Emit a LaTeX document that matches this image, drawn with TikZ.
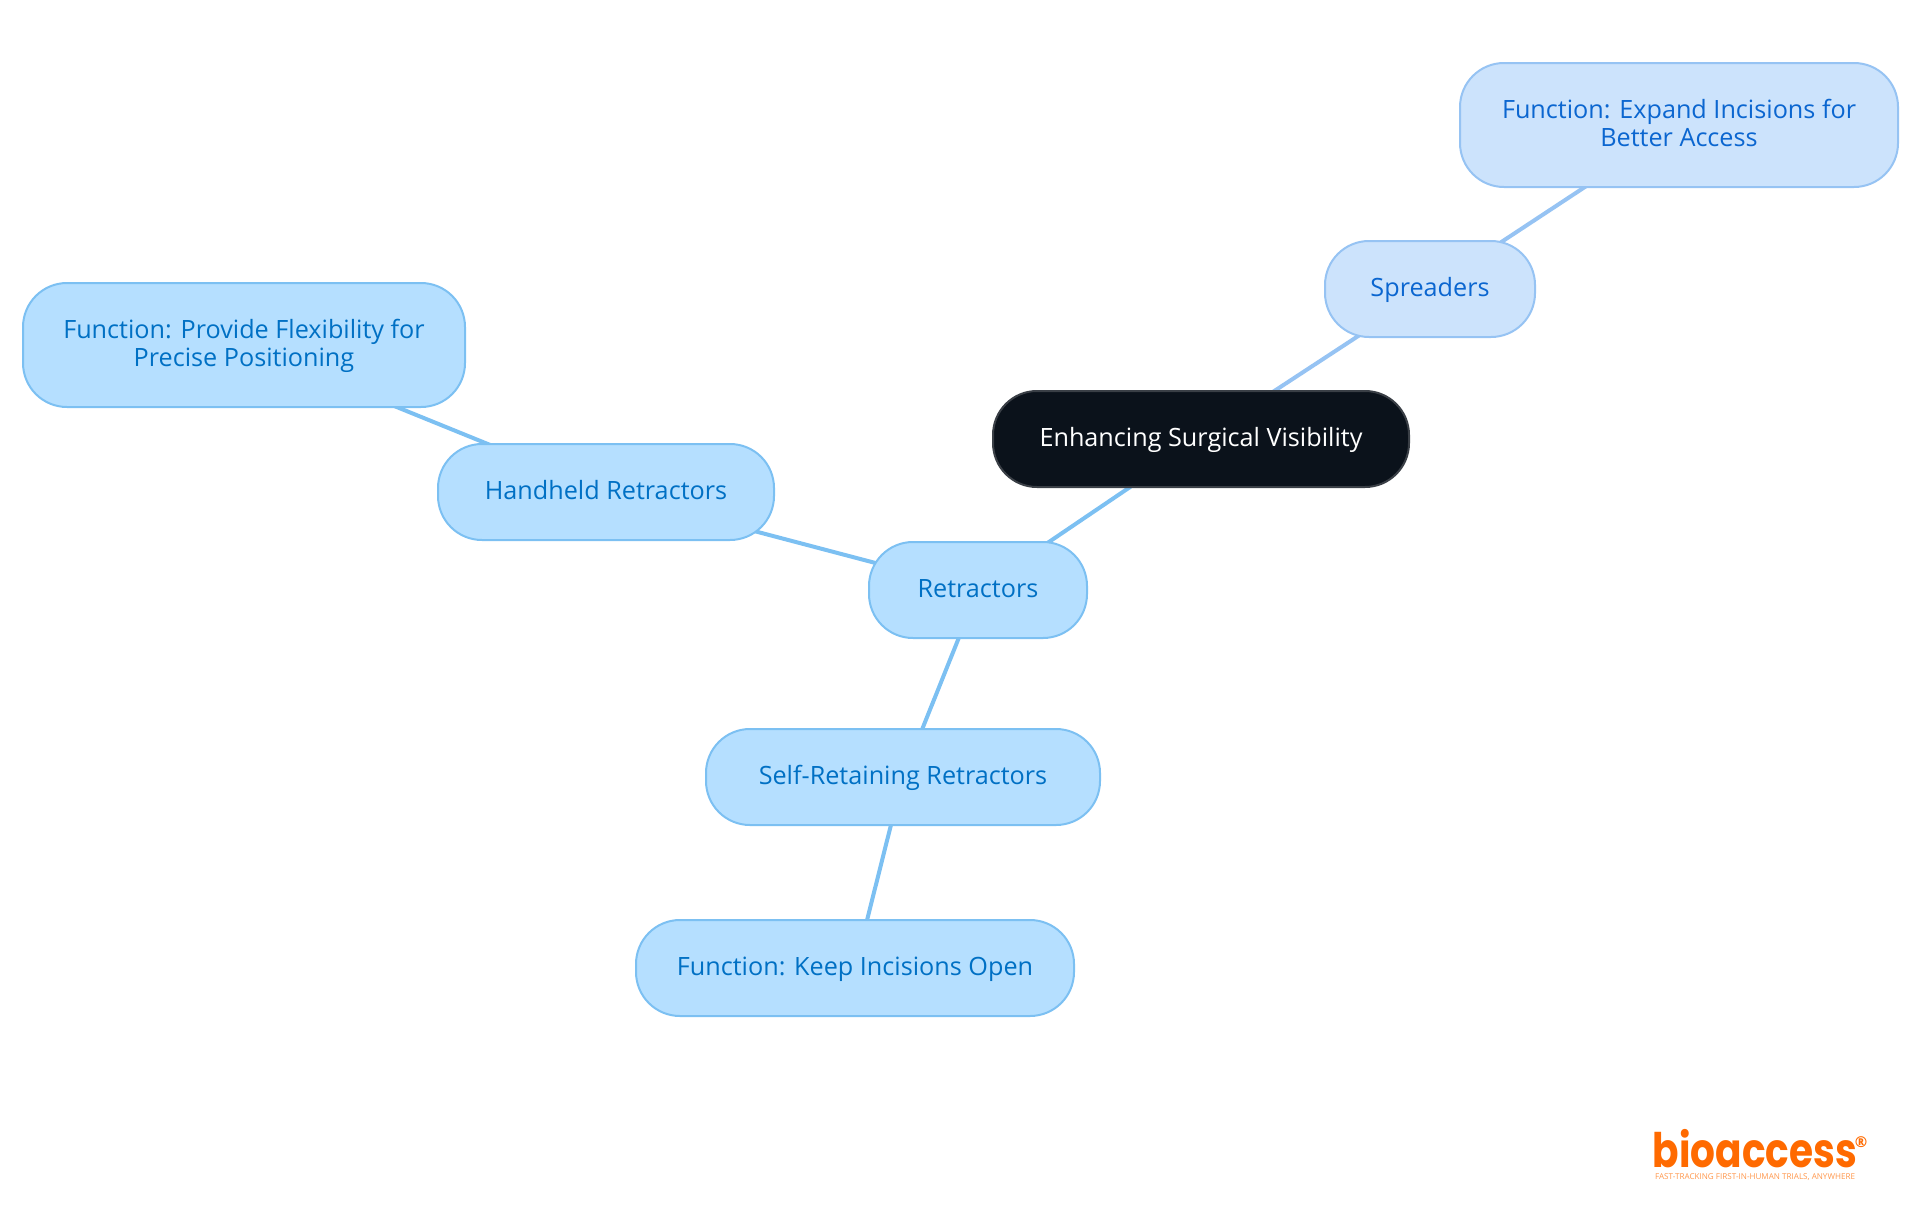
\documentclass[tikz,border=0pt]{standalone}
\usepackage{xcolor}
\usepackage{fontspec}
\setmainfont{Open Sans}
\newfontfamily\logofont{Poppins}
\usetikzlibrary{positioning,backgrounds}
\definecolor{rootdark}{RGB}{11,18,27}
\definecolor{rootedge}{RGB}{58,63,70}
\definecolor{skyfill}{RGB}{181,223,255}
\definecolor{skyedge}{RGB}{124,192,242}
\definecolor{skytext}{RGB}{0,112,196}
\definecolor{palefill}{RGB}{204,227,252}
\definecolor{paleedge}{RGB}{150,195,243}
\definecolor{paletext}{RGB}{11,102,208}
\definecolor{logoorange}{RGB}{255,106,0}
\newcommand{\linestrut}{\vrule width 0pt height 10.5pt depth 3.5pt}

\begin{document}
\begin{tikzpicture}[
    x=0.5pt, y=-0.5pt,
    topic/.style={rectangle, draw=#1edge, fill=#1fill, text=#1text, rounded corners=22pt, line width=1pt,
                  align=center, font=\fontsize{12.6}{14}\selectfont, minimum height=48pt},
    central/.style={rectangle, draw=rootedge, fill=rootdark, text=white, rounded corners=22pt, line width=1pt,
                    align=center, font=\fontsize{12.6}{14}\selectfont, minimum height=48pt},
    link/.style={draw=#1edge, line width=2pt}
]
\useasboundingbox (0,0) rectangle (1920,1215);

% Central topic
\node[central, minimum width=208pt] (root) at (1201,439) {\linestrut Enhancing Surgical Visibility};

% Upper branch
\node[topic=pale, minimum width=105pt] (spreaders) at (1430,289) {\linestrut Spreaders};
\node[topic=pale, minimum width=219pt, minimum height=62pt] (expand) at (1679,125) {\linestrut Function: Expand Incisions for\\Better Access\linestrut};

% Lower branch
\node[topic=sky, minimum width=109pt] (retractors) at (978,590) {\linestrut Retractors};
\node[topic=sky, minimum width=168pt] (handheld) at (606,492) {\linestrut Handheld Retractors};
\node[topic=sky, minimum width=221pt, minimum height=62pt] (flexibility) at (244,345) {\linestrut Function: Provide Flexibility for\\Precise Positioning\linestrut};
\node[topic=sky, minimum width=197pt] (selfretaining) at (903,777) {\linestrut Self-Retaining Retractors};
\node[topic=sky, minimum width=219pt] (keepopen) at (855,968) {\linestrut Function: Keep Incisions Open};

% Connections
\begin{pgfonlayer}{background}
\draw[link=pale] (root.center) -- (spreaders.center);
\draw[link=pale] (spreaders.center) -- (expand.center);
\draw[link=sky] (root.center) -- (retractors.center);
\draw[link=sky] (retractors.center) -- (handheld.center);
\draw[link=sky] (handheld.center) -- (flexibility.center);
\draw[link=sky] (retractors.center) -- (selfretaining.center);
\draw[link=sky] (selfretaining.center) -- (keepopen.center);
\end{pgfonlayer}

% Logo
\node[text=logoorange, inner sep=0pt, anchor=base, xscale=0.82, transform shape, font=\logofont\bfseries\fontsize{23.8}{24}\selectfont] (logo) at (1755,1167.5) {bioaccess};
\node[text=logoorange, inner sep=0pt, font=\bfseries\fontsize{7.5}{8}\selectfont] (registered) at (1861,1142) {®};
\node[text=logoorange!70, inner sep=0pt, font=\fontsize{4.05}{4.2}\selectfont] (tagline) at (1755,1177.5) {FAST-TRACKING FIRST-IN-HUMAN TRIALS, ANYWHERE};

\end{tikzpicture}
\end{document}
